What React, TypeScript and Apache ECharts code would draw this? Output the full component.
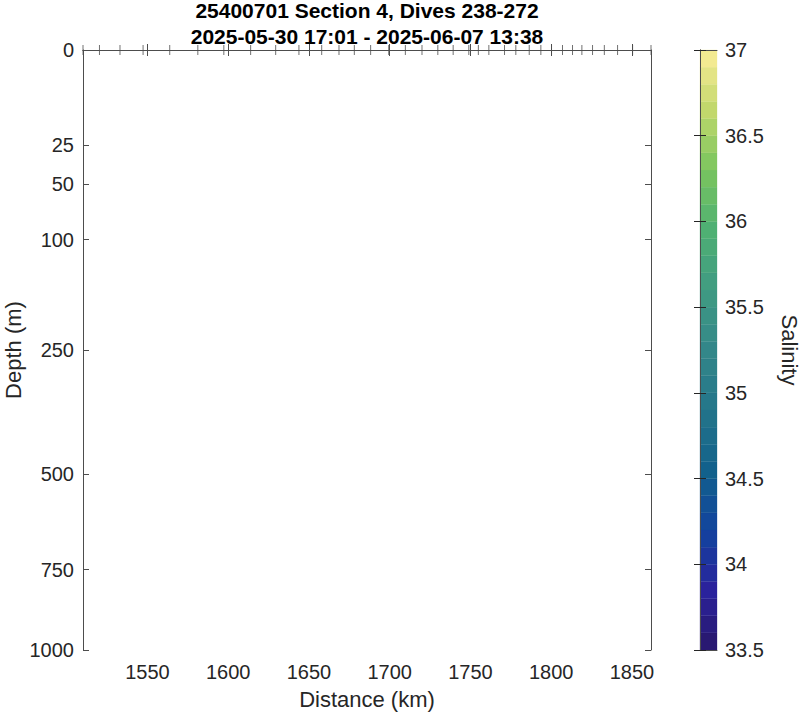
import React, { useEffect, useRef } from "react";
import * as echarts from "echarts";

const titleLines = ["25400701 Section 4, Dives 238-272", "2025-05-30 17:01 - 2025-06-07 13:38"];
const xAxisName = "Distance (km)";
const yAxisName = "Depth (m)";
const colorbarName = "Salinity";

// dive positions along the section (km), drawn as markers on the surface
const diveDistances = [
  1510.1, 1520.3, 1533.0, 1547.3, 1563.8, 1581.2, 1597.3, 1613.9, 1629.4, 1643.8,
  1657.9, 1668.6, 1678.1, 1688.2, 1699.4, 1709.7, 1720.0, 1729.8, 1739.3, 1749.0,
  1754.9, 1761.4, 1771.1, 1778.1, 1786.4, 1793.6, 1800.2, 1807.0, 1813.2, 1819.0,
  1825.6, 1832.9, 1841.1, 1850.4, 1861.8,
];

const distanceTicks = [1550, 1600, 1650, 1700, 1750, 1800, 1850];
const depthTicks = [0, 25, 50, 100, 250, 500, 750, 1000];
const depthMax = 1000;

// colorbar levels (salinity band edges)
const salinityEdges = [
  33.5, 33.6, 33.7, 33.8, 33.9, 34.0, 34.1, 34.2, 34.3, 34.4, 34.5, 34.6,
  34.7, 34.8, 34.9, 35.0, 35.1, 35.2, 35.3, 35.4, 35.5, 35.6, 35.7, 35.8,
  35.9, 36.0, 36.1, 36.2, 36.3, 36.4, 36.5, 36.6, 36.7, 36.8, 36.9, 37.0,
];
const salinityMin = 33.5;
const salinityMax = 37;
const salinityTickStep = 0.5;

const halineColors = [
  "#29186b", "#2a229c", "#12449e", "#12618c", "#24758a", "#338789",
  "#409b82", "#4fb073", "#7ac55e", "#c2d86c", "#fbed97",
];

const FONT = '"Liberation Sans", Arial, Helvetica, sans-serif';
const AXIS_COLOR = "#4d4d4d";
const TEXT_COLOR = "#262626";

export default function App() {
  const ref = useRef<HTMLDivElement>(null);

  useEffect(() => {
    document.body.style.margin = "0";
    if (!ref.current) return;
    const chart = echarts.init(ref.current, null, { renderer: "svg" });

    const sqrtTicks = depthTicks.map((d) => Math.sqrt(d));
    const xMin = Math.min(...diveDistances);
    const xMax = Math.max(...diveDistances);

    const bands = salinityEdges.slice(0, -1).map((lo, i) => {
      const hi = salinityEdges[i + 1];
      return [lo, hi, (lo + hi) / 2];
    });

    const axisLine = { show: true, lineStyle: { color: AXIS_COLOR, width: 1 } };
    const label = { color: TEXT_COLOR, fontFamily: FONT, fontSize: 20 };

    const option: any = {
      animation: false,
      backgroundColor: "#ffffff",
      graphic: [
        {
          type: "text",
          x: 367,
          y: 10,
          style: {
            text: titleLines[0],
            font: `bold 21px ${FONT}`,
            fill: "#000000",
            align: "center",
            verticalAlign: "middle",
          },
        },
        {
          type: "text",
          x: 367,
          y: 36,
          style: {
            text: titleLines[1],
            font: `bold 21px ${FONT}`,
            fill: "#000000",
            align: "center",
            verticalAlign: "middle",
          },
        },
      ],
      visualMap: {
        type: "continuous",
        show: false,
        min: salinityMin,
        max: salinityMax,
        dimension: 2,
        seriesIndex: 1,
        inRange: { color: halineColors },
      },
      grid: [
        { left: 83, top: 50, width: 568, height: 600, outerBoundsMode: "none", containLabel: false },
        { left: 700, top: 50, width: 17, height: 600, outerBoundsMode: "none", containLabel: false },
      ],
      xAxis: [
        {
          type: "value",
          gridIndex: 0,
          position: "bottom",
          min: xMin,
          max: xMax,
          axisLine,
          axisTick: { show: true, inside: true, length: 6, customValues: distanceTicks, lineStyle: { color: AXIS_COLOR } },
          axisLabel: { ...label, margin: 12, customValues: distanceTicks, formatter: (v: number) => String(Math.round(v)) },
          splitLine: { show: false },
          name: xAxisName,
          nameLocation: "middle",
          nameGap: 38,
          nameMoveOverlap: false,
          nameTextStyle: { color: TEXT_COLOR, fontFamily: FONT, fontSize: 22 },
          z: 10,
        },
        {
          type: "value",
          gridIndex: 0,
          position: "top",
          min: xMin,
          max: xMax,
          axisLine,
          axisTick: { show: true, inside: true, length: 6, customValues: distanceTicks, lineStyle: { color: AXIS_COLOR } },
          axisLabel: { show: false },
          splitLine: { show: false },
          z: 10,
        },
        {
          type: "value",
          gridIndex: 1,
          position: "bottom",
          min: 0,
          max: 1,
          axisLine,
          axisTick: { show: false },
          axisLabel: { show: false },
          splitLine: { show: false },
          z: 10,
        },
        {
          type: "value",
          gridIndex: 1,
          position: "top",
          min: 0,
          max: 1,
          axisLine,
          axisTick: { show: false },
          axisLabel: { show: false },
          splitLine: { show: false },
          z: 10,
        },
      ],
      yAxis: [
        {
          type: "value",
          gridIndex: 0,
          position: "left",
          inverse: true,
          min: 0,
          max: Math.sqrt(depthMax),
          axisLine,
          axisTick: { show: true, inside: true, length: 6, customValues: sqrtTicks, lineStyle: { color: AXIS_COLOR } },
          axisLabel: {
            ...label,
            margin: 9,
            customValues: sqrtTicks,
            formatter: (v: number) => String(Math.round(v * v)),
          },
          splitLine: { show: false },
          name: yAxisName,
          nameLocation: "middle",
          nameGap: 59,
          nameMoveOverlap: false,
          nameTextStyle: { color: TEXT_COLOR, fontFamily: FONT, fontSize: 22 },
          z: 10,
        },
        {
          type: "value",
          gridIndex: 0,
          position: "right",
          inverse: true,
          min: 0,
          max: Math.sqrt(depthMax),
          axisLine,
          axisTick: { show: true, inside: true, length: 6, customValues: sqrtTicks, lineStyle: { color: AXIS_COLOR } },
          axisLabel: { show: false },
          splitLine: { show: false },
          z: 10,
        },
        {
          type: "value",
          gridIndex: 1,
          position: "left",
          min: salinityMin,
          max: salinityMax,
          interval: salinityTickStep,
          axisLine,
          axisTick: { show: true, inside: true, length: 6, lineStyle: { color: "#262626" } },
          axisLabel: { show: false },
          splitLine: { show: false },
          z: 10,
        },
        {
          type: "value",
          gridIndex: 1,
          position: "right",
          min: salinityMin,
          max: salinityMax,
          interval: salinityTickStep,
          axisLine,
          axisTick: { show: true, inside: true, length: 6, lineStyle: { color: "#262626" } },
          axisLabel: { ...label, margin: 8, formatter: (v: number) => String(Number(v.toFixed(1))) },
          splitLine: { show: false },
          name: colorbarName,
          nameLocation: "middle",
          nameGap: 61,
          nameRotate: -90,
          nameMoveOverlap: false,
          nameTextStyle: { color: TEXT_COLOR, fontFamily: FONT, fontSize: 22 },
          z: 10,
        },
      ],
      series: [
        {
          type: "scatter",
          xAxisIndex: 0,
          yAxisIndex: 0,
          data: diveDistances.map((d) => [d, 0]),
          symbol: "rect",
          symbolSize: [1, 10],
          itemStyle: { color: AXIS_COLOR },
          clip: false,
          silent: true,
          z: 20,
        },
        {
          type: "custom",
          xAxisIndex: 2,
          yAxisIndex: 2,
          data: bands,
          encode: { y: [0, 1] },
          silent: true,
          renderItem: (_params: any, api: any) => {
            const lo = api.value(0);
            const hi = api.value(1);
            const p1 = api.coord([0, hi]);
            const p2 = api.coord([1, lo]);
            const color = api.visual("color");
            return {
              type: "rect",
              shape: { x: p1[0], y: p1[1], width: p2[0] - p1[0], height: p2[1] - p1[1] },
              style: { fill: color, stroke: color, lineWidth: 0.3 },
            };
          },
        },
      ],
    };

    chart.setOption(option);
    return () => chart.dispose();
  }, []);

  return <div ref={ref} style={{ width: 800, height: 714 }} />;
}
